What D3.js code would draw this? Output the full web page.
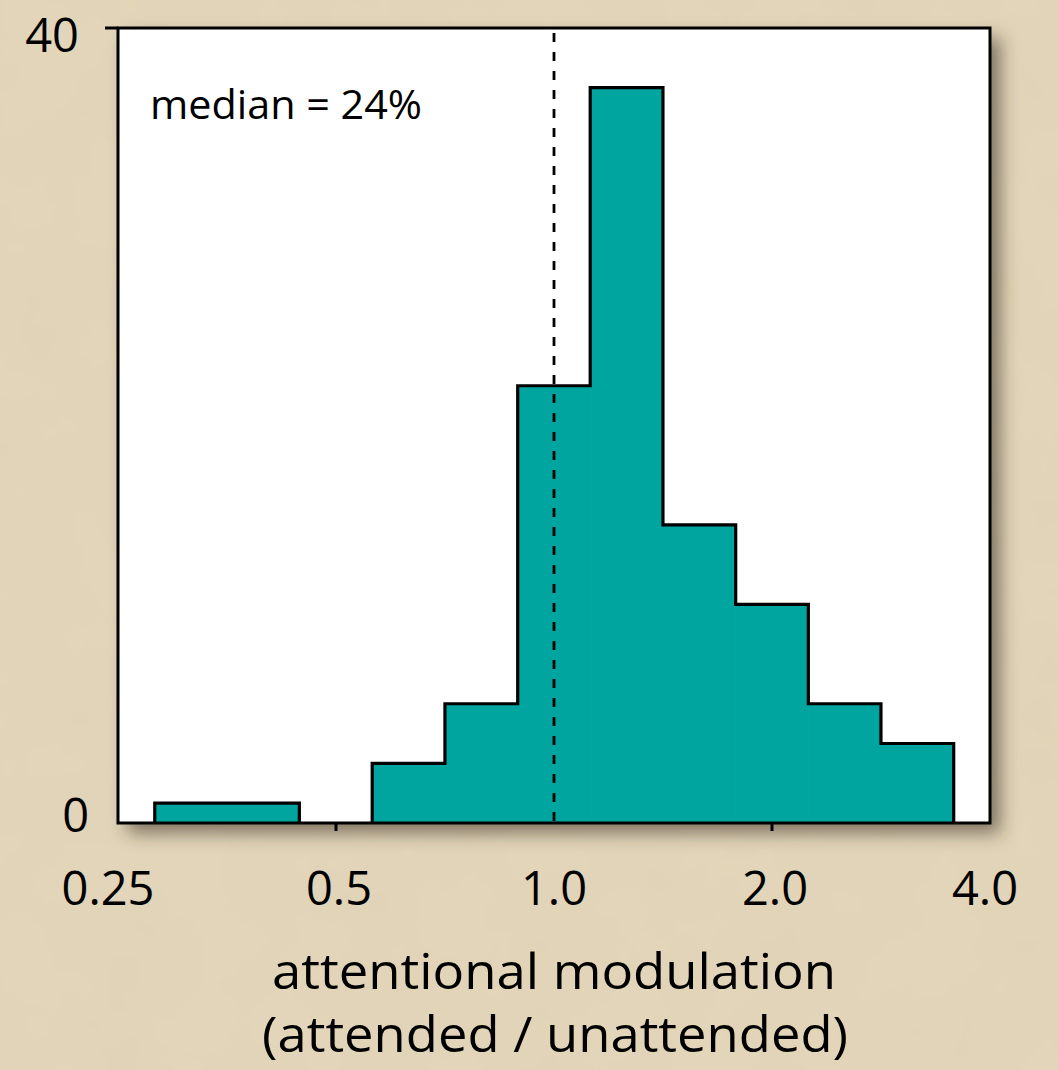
<!DOCTYPE html>
<html>
<head>
<meta charset="utf-8">
<script src="https://cdn.jsdelivr.net/npm/d3@7"></script>
<style>
  html, body { margin: 0; padding: 0; background: #E3D6BA; }
  svg { display: block; }
  text { font-family: "Open Sans", "Noto Sans", sans-serif; fill: #000; }
</style>
</head>
<body>
<svg id="chart" width="1058" height="1070"></svg>
<script>
// ---- data ----
const binEdges = [0.281, 0.354, 0.445, 0.561, 0.707, 0.891, 1.122, 1.414, 1.782, 2.245, 2.828, 3.564];
const counts = [1, 1, 0, 3, 6, 22, 37, 15, 11, 6, 4];
const xTickValues = [0.25, 0.5, 1, 2, 4];
const xTickLabels = ["0.25", "0.5", "1.0", "2.0", "4.0"];
const yTickValues = [0, 40];
const yTickLabels = ["0", "40"];
const referenceValue = 1.0;
const annotation = "median = 24%";
const xTitle = ["attentional modulation", "(attended / unattended)"];

// ---- layout ----
const W = 1058, H = 1070;
const L = 118, R = 990, T = 28, B = 823;
const svg = d3.select("#chart");

const defs = svg.append("defs");
const sh = defs.append("filter").attr("id", "shadow")
  .attr("x", "-10%").attr("y", "-10%").attr("width", "130%").attr("height", "130%");
sh.append("feDropShadow").attr("dx", 10).attr("dy", 10).attr("stdDeviation", 9)
  .attr("flood-color", "#3b3326").attr("flood-opacity", 0.6);

const tex = defs.append("filter").attr("id", "tex").attr("x", 0).attr("y", 0).attr("width", "100%").attr("height", "100%");
tex.append("feTurbulence").attr("type", "fractalNoise").attr("baseFrequency", 0.012).attr("numOctaves", 3).attr("seed", 4);
tex.append("feColorMatrix").attr("type", "matrix")
  .attr("values", "0 0 0 0 0.55  0 0 0 0 0.45  0 0 0 0 0.3  0 0 0 0.1 0");

svg.append("rect").attr("width", W).attr("height", H).attr("fill", "#E3D6BA");
svg.append("rect").attr("width", W).attr("height", H).attr("filter", "url(#tex)");

const x = d3.scaleLog().base(2).domain([0.25, 4]).range([L, R]);
const y = d3.scaleLinear().domain([0, 40]).range([B, T]);

// plot area with shadow
svg.append("rect").attr("x", L).attr("y", T).attr("width", R - L).attr("height", B - T)
  .attr("fill", "#fff").attr("filter", "url(#shadow)");

// bars (fill)
const bins = counts.map((c, i) => ({ x0: binEdges[i], x1: binEdges[i + 1], c }));
svg.append("g").selectAll("rect").data(bins.filter(d => d.c > 0)).join("rect")
  .attr("x", d => x(d.x0)).attr("width", d => x(d.x1) - x(d.x0))
  .attr("y", d => y(d.c)).attr("height", d => y(0) - y(d.c))
  .attr("fill", "#00A59F").attr("stroke", "#00A59F").attr("stroke-width", 0.8);

// outline of the histogram (step)
const p = d3.path();
let open = false;
bins.forEach((d, i) => {
  if (d.c > 0) {
    if (!open) { p.moveTo(x(d.x0), y(0)); open = true; }
    p.lineTo(x(d.x0), y(d.c));
    p.lineTo(x(d.x1), y(d.c));
    const next = bins[i + 1];
    if (!next || next.c === 0) { p.lineTo(x(d.x1), y(0)); open = false; }
  }
});
svg.append("path").attr("d", p.toString()).attr("fill", "none")
  .attr("stroke", "#000").attr("stroke-width", 3.2).attr("stroke-linejoin", "miter");

// reference dashed line
svg.append("line").attr("x1", x(referenceValue)).attr("x2", x(referenceValue))
  .attr("y1", T + 5).attr("y2", B)
  .attr("stroke", "#000").attr("stroke-width", 2.8).attr("stroke-dasharray", "9,10");

// frame
svg.append("rect").attr("x", L).attr("y", T).attr("width", R - L).attr("height", B - T)
  .attr("fill", "none").attr("stroke", "#000").attr("stroke-width", 3);
// y tick at 40 (outward)
svg.append("line").attr("x1", L - 13).attr("x2", L).attr("y1", y(40)).attr("y2", y(40))
  .attr("stroke", "#000").attr("stroke-width", 3);
// x ticks (outward, small)
svg.append("g").selectAll("line").data([0.5, 2]).join("line")
  .attr("x1", d => x(d)).attr("x2", d => x(d)).attr("y1", B).attr("y2", B + 8)
  .attr("stroke", "#000").attr("stroke-width", 3);

// fit text to target width by compressing glyphs
function fit(sel, target) {
  sel.attr("textLength", target).attr("lengthAdjust", "spacingAndGlyphs");
}

// x tick labels
const xLabelShift = [-10, 3, 0, 3, -5];
svg.append("g").selectAll("text").data(xTickValues).join("text")
  .attr("x", (d, i) => x(d) + xLabelShift[i]).attr("y", 905)
  .attr("text-anchor", "middle").attr("font-size", 47)
  .text((d, i) => xTickLabels[i]);

// y tick labels
const yLabelPos = { 0: [89, 832], 40: [79, 52] };
svg.append("g").selectAll("text").data(yTickValues).join("text")
  .attr("x", d => yLabelPos[d][0]).attr("y", d => yLabelPos[d][1])
  .attr("text-anchor", "end").attr("font-size", 47)
  .text((d, i) => yTickLabels[i]);

const ann = svg.append("text").attr("x", 150).attr("y", 119).attr("font-size", 40).text(annotation);
fit(ann, 272);

const t1 = svg.append("text").attr("x", 554).attr("y", 989).attr("text-anchor", "middle").attr("font-size", 49).text(xTitle[0]);
fit(t1, 564);
const t2 = svg.append("text").attr("x", 555).attr("y", 1052).attr("text-anchor", "middle").attr("font-size", 49).text(xTitle[1]);
fit(t2, 586);
</script>
</body>
</html>
